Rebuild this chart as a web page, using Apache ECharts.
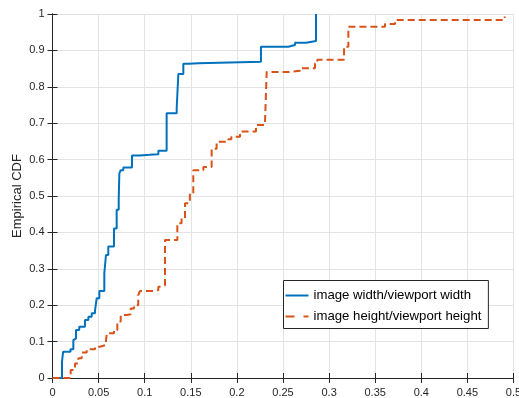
<!DOCTYPE html>
<html>
<head>
<meta charset="utf-8">
<script src="https://cdn.jsdelivr.net/npm/echarts@6/dist/echarts.min.js"></script>
<style>html,body{margin:0;padding:0;background:#fff}#c{width:519px;height:398px}</style>
</head>
<body>
<div id="c"></div>
<script>
const seriesNames = ["image width/viewport width", "image height/viewport height"];
const widthX = [0, 0.0103, 0.0115, 0.0195, 0.0226, 0.0245, 0.0255, 0.029, 0.0352, 0.0389, 0.0425, 0.0461, 0.0479, 0.0508, 0.0562, 0.058, 0.0605, 0.0667, 0.0696, 0.0718, 0.0725, 0.074, 0.0768, 0.0862, 0.095, 0.105, 0.1148, 0.1238, 0.1347, 0.1365, 0.1419, 0.148, 0.158, 0.2261, 0.2558, 0.263, 0.275, 0.2858];
const widthY = [0, 0.045, 0.072, 0.079, 0.104, 0.109, 0.132, 0.141, 0.159, 0.168, 0.178, 0.185, 0.219, 0.239, 0.288, 0.338, 0.361, 0.411, 0.462, 0.49, 0.562, 0.571, 0.578, 0.611, 0.613, 0.615, 0.624, 0.727, 0.741, 0.835, 0.863, 0.865, 0.869, 0.910, 0.915, 0.921, 0.926, 1.0];
const heightX = [0, 0.0197, 0.0244, 0.028, 0.0317, 0.0371, 0.0461, 0.0515, 0.058, 0.059, 0.0667, 0.0703, 0.074, 0.0805, 0.0848, 0.0884, 0.093, 0.0949, 0.1094, 0.1148, 0.119, 0.122, 0.1354, 0.140, 0.1437, 0.149, 0.1527, 0.1636, 0.1726, 0.178, 0.1907, 0.194, 0.2034, 0.2207, 0.2305, 0.2323, 0.2576, 0.2684, 0.2847, 0.2872, 0.3162, 0.3209, 0.3606, 0.3715, 0.4905];
const heightY = [0, 0.022, 0.040, 0.054, 0.070, 0.079, 0.086, 0.091, 0.104, 0.123, 0.132, 0.155, 0.173, 0.175, 0.191, 0.200, 0.228, 0.239, 0.242, 0.251, 0.255, 0.379, 0.425, 0.439, 0.480, 0.507, 0.571, 0.580, 0.630, 0.649, 0.656, 0.663, 0.677, 0.695, 0.704, 0.841, 0.844, 0.851, 0.864, 0.874, 0.910, 0.965, 0.9725, 0.9835, 0.993];
const yAxisTitle = "Empirical CDF";

const zip = (xs, ys) => xs.map((x, i) => [x, ys[i]]);
const axisColor = '#262626';
const font = 'Liberation Sans, Arial, sans-serif';
const chart = echarts.init(document.getElementById('c'), null, {renderer: 'canvas'});
const baseX = {type: 'value', min: 0, max: 0.5, interval: 0.05};
const baseY = {type: 'value', min: 0, max: 1, interval: 0.1};
chart.setOption({
  animation: false,
  backgroundColor: '#fff',
  grid: {left: 52.5, right: 5.5, top: 14, bottom: 20, containLabel: false, outerBoundsMode: 'none'},
  xAxis: [
    Object.assign({}, baseX, {
      position: 'bottom',
      axisLine: {show: true, lineStyle: {color: axisColor, width: 1}},
      axisTick: {show: true, inside: true, length: 5, lineStyle: {color: axisColor}},
      axisLabel: {color: axisColor, fontFamily: font, fontSize: 11, margin: 9,
        formatter: v => String(+v.toFixed(2))},
      splitLine: {show: true, lineStyle: {color: '#e3e3e3', width: 1}}
    }),
    Object.assign({}, baseX, {
      position: 'top',
      axisLine: {show: true, lineStyle: {color: axisColor, width: 1}},
      axisTick: {show: true, inside: true, length: 5, lineStyle: {color: axisColor}},
      axisLabel: {show: false},
      splitLine: {show: false}
    })
  ],
  yAxis: [
    Object.assign({}, baseY, {
      position: 'left',
      name: yAxisTitle, nameLocation: 'middle', nameGap: 29, nameMoveOverlap: false,
      nameTextStyle: {color: axisColor, fontFamily: font, fontSize: 13},
      axisLine: {show: true, lineStyle: {color: axisColor, width: 1}},
      axisTick: {show: true, inside: true, length: 5, lineStyle: {color: axisColor}},
      axisLabel: {color: axisColor, fontFamily: font, fontSize: 11, margin: 8,
        formatter: v => String(+v.toFixed(1))},
      splitLine: {show: true, lineStyle: {color: '#e3e3e3', width: 1}}
    }),
    Object.assign({}, baseY, {
      position: 'right',
      axisLine: {show: true, lineStyle: {color: axisColor, width: 1}},
      axisTick: {show: true, inside: true, length: 5, lineStyle: {color: axisColor}},
      axisLabel: {show: false},
      splitLine: {show: false}
    })
  ],
  legend: {
    orient: 'vertical', left: 283.5, top: 280.5,
    padding: [8, 7, 5, 2], itemGap: 7, itemWidth: 23, itemHeight: 2,
    backgroundColor: '#fff', borderColor: axisColor, borderWidth: 1,
    textStyle: {color: '#000', fontFamily: font, fontSize: 13.2, lineHeight: 14},
    data: [
      {name: seriesNames[0], icon: 'path://M0 0h23v2H0z'},
      {name: seriesNames[1], icon: 'path://M0 0h9v2H0zM18 0h5v2h-5z'}
    ]
  },
  series: [
    {name: seriesNames[0], type: 'line', step: 'end', showSymbol: false, symbol: 'none',
     data: zip(widthX, widthY), lineStyle: {color: '#0072BD', width: 2}, itemStyle: {color: '#0072BD'}},
    {name: seriesNames[1], type: 'line', step: 'end', showSymbol: false, symbol: 'none',
     data: zip(heightX, heightY), lineStyle: {color: '#D95319', width: 2, type: [7, 4]}, itemStyle: {color: '#D95319'}}
  ]
});
</script>
</body>
</html>
